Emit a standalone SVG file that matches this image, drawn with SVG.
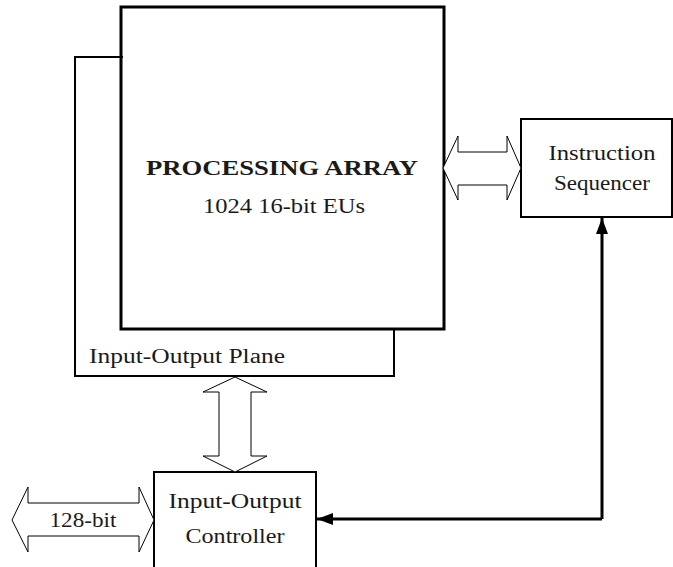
<svg xmlns="http://www.w3.org/2000/svg" width="673" height="567" viewBox="0 0 673 567">
<style>
.box{fill:none;stroke:#000;stroke-width:2}
.thick{fill:none;stroke:#000;stroke-width:3}
.bus{fill:#fff;stroke:#000;stroke-width:1;stroke-linejoin:miter}
text{font-family:'Liberation Serif','Times New Roman',serif;font-size:20px;fill:#1a1a1a}
.b{font-weight:bold}
.wire{fill:none;stroke:#000;stroke-width:3}
</style>
<defs>
<marker id="ah" viewBox="0 0 16 12" refX="16" refY="6" markerWidth="16" markerHeight="12" markerUnits="userSpaceOnUse" orient="auto">
<path d="M0,0 L16,6 L0,12 Z" fill="#000"/>
</marker>
</defs>
<g id="io-plane">
<polyline class="box" points="123,57 75,57 75,376 394,376 394,328"/>
<text x="89" y="363" textLength="196" lengthAdjust="spacingAndGlyphs">Input-Output Plane</text>
</g>
<g id="processing-array">
<rect class="thick" x="121" y="7" width="323" height="322"/>
<text class="b" x="282" y="175" text-anchor="middle" textLength="272" lengthAdjust="spacingAndGlyphs">PROCESSING ARRAY</text>
<text x="284" y="213" text-anchor="middle" textLength="162" lengthAdjust="spacingAndGlyphs">1024 16-bit EUs</text>
</g>
<g id="instruction-sequencer">
<rect class="box" x="521" y="119" width="151" height="98"/>
<text x="602" y="160" text-anchor="middle" textLength="107" lengthAdjust="spacingAndGlyphs">Instruction</text>
<text x="602" y="190" text-anchor="middle" textLength="96" lengthAdjust="spacingAndGlyphs">Sequencer</text>
</g>
<g id="io-controller">
<rect class="box" x="154" y="472" width="162" height="100"/>
<text x="235" y="508" text-anchor="middle" textLength="133" lengthAdjust="spacingAndGlyphs">Input-Output</text>
<text x="235" y="543" text-anchor="middle" textLength="99" lengthAdjust="spacingAndGlyphs">Controller</text>
</g>
<g id="connectors">
<polygon class="bus" points="443,168 458,136 458,152 507,152 507,136 521,168 507,200 507,185 458,185 458,200"/>
<polygon class="bus" points="235,377 267,392 251,392 251,456 267,456 235,472 203,456 219,456 219,392 203,392"/>
<polygon class="bus" points="12,520 28,487 28,503 139,503 139,487 154,520 139,552 139,536 28,536 28,552"/>
<text x="83" y="527" text-anchor="middle" textLength="67" lengthAdjust="spacingAndGlyphs">128-bit</text>
<path class="wire" d="M602,519 L602,218" marker-end="url(#ah)"/>
<path class="wire" d="M602,519 L317,519" marker-end="url(#ah)"/>
</g>
</svg>
